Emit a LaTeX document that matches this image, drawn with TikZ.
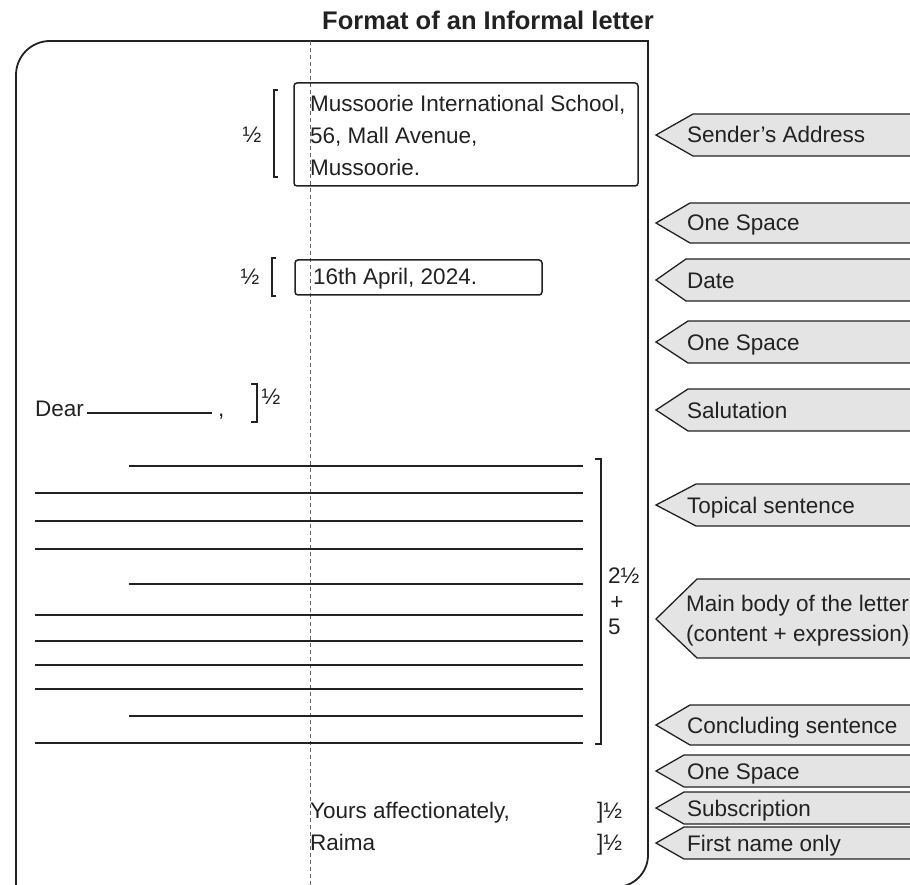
\documentclass[tikz,border=0pt]{standalone}
\usepackage{fontspec}
\setmainfont{Liberation Sans}
\definecolor{tagfill}{HTML}{E4E4E4}
\definecolor{ink}{HTML}{222222}

\begin{document}
\begin{tikzpicture}[x=1pt, y=-1pt,
  every node/.style={font=\fontsize{22.5}{30}\selectfont, inner sep=0pt, text=ink},
  rule/.style={line width=2pt, ink},
  frame/.style={line width=1.8pt, ink},
  box/.style={draw=ink, line width=1.5pt, rounded corners=3pt},
  brace/.style={line width=1.4pt, ink},
  tagshape/.style={draw=ink, fill=tagfill, line width=1.3pt, line join=miter},
  tagtext/.style={anchor=west, text height=16pt, text depth=0pt}]
\useasboundingbox (0,0) rectangle (910,885);
% Draw title
\node[font=\fontsize{25.5}{30}\selectfont\bfseries, anchor=base] (title) at (488,30) {Format of an Informal letter};
% Draw letter frame and margin
\draw[frame] (16,890) -- (16,75) arc[start angle=180, end angle=90, radius=34pt] -- (648,41)
  -- (648,855) arc[start angle=0, end angle=-90, radius=32pt] -- (16,887);
\draw[black!60, dash pattern=on 4pt off 3pt, line width=1pt] (310,41) -- (310,885);
% Draw sender's address and date
\draw[box] (294,83) rectangle (638,186);
\node[anchor=base west] (addr1) at (310,112) {Mussoorie International School,};
\node[anchor=base west] (addr2) at (310,144) {56, Mall Avenue,};
\node[anchor=base west] (addr3) at (310,176) {Mussoorie.};
\draw[brace] (278,90) -- (274,90) -- (274,177) -- (278,177);
\node (halfaddr) at (252,135) {½};
\draw[box] (295,260) rectangle (542,295);
\node[anchor=base west] (date) at (313,285) {16th April, 2024.};
\draw[brace] (276,258) -- (272,258) -- (272,296) -- (276,296);
\node (halfdate) at (250,277) {½};
% Draw salutation
\node[anchor=base west] (dear) at (35,416) {Dear};
\draw[line width=1.4pt, ink] (87,413) -- (212,413);
\node[anchor=base west] (comma) at (218,416) {,};
\draw[brace] (251,384) -- (257,384) -- (257,422) -- (251,422);
\node (halfdear) at (271,397) {½};
% Draw body lines
\foreach \y/\x in {466/129, 493/35, 521/35, 549/35, 584/129, 615/35, 641/35, 665/35, 689/35, 716/129, 743/35}
    \draw[rule] (\x,\y) -- (583,\y);
\draw[brace] (595,459) -- (601,459) -- (601,744) -- (595,744);
\node[anchor=base west] (bodymark) at (608,583) {2½};
\node (plus) at (617,603) {+};
\node[anchor=base west] (five) at (608,634) {5};
% Draw closing
\node[anchor=base west] (yours) at (310,818) {Yours affectionately,};
\node[anchor=base west] (raima) at (310,850) {Raima};
\node[anchor=base west] (halfyours) at (597,818) {]½};
\node[anchor=base west] (halfraima) at (597,850) {]½};
% Draw side tags
\foreach \name/\top/\bot/\tip/\txt in {sender/114/156/37/Sender’s Address, spaceA/203/243/34/One Space,
    datetag/259/301/30/Date, spaceB/321/363/32/One Space, salute/389/431/32/Salutation,
    topical/484/526/40/Topical sentence, conclude/705/745/34/Concluding sentence,
    spaceC/755/787/28/One Space, subscr/792/824/28/Subscription, firstname/827/859/28/First name only}
{
    \draw[tagshape] (656,{(\top+\bot)/2}) -- (656+\tip,\top) -- (915,\top) -- (915,\bot) -- (656+\tip,\bot) -- cycle;
    \node[tagtext] (\name) at (687,{(\top+\bot)/2}) {\txt};
}
\draw[tagshape] (656,619) -- (697,579) -- (915,579) -- (915,658) -- (697,658) -- cycle;
\node[anchor=base west] (mainbody1) at (686,611) {Main body of the letter};
\node[anchor=base west] (mainbody2) at (686,641) {(content + expression)};
\end{tikzpicture}
\end{document}
